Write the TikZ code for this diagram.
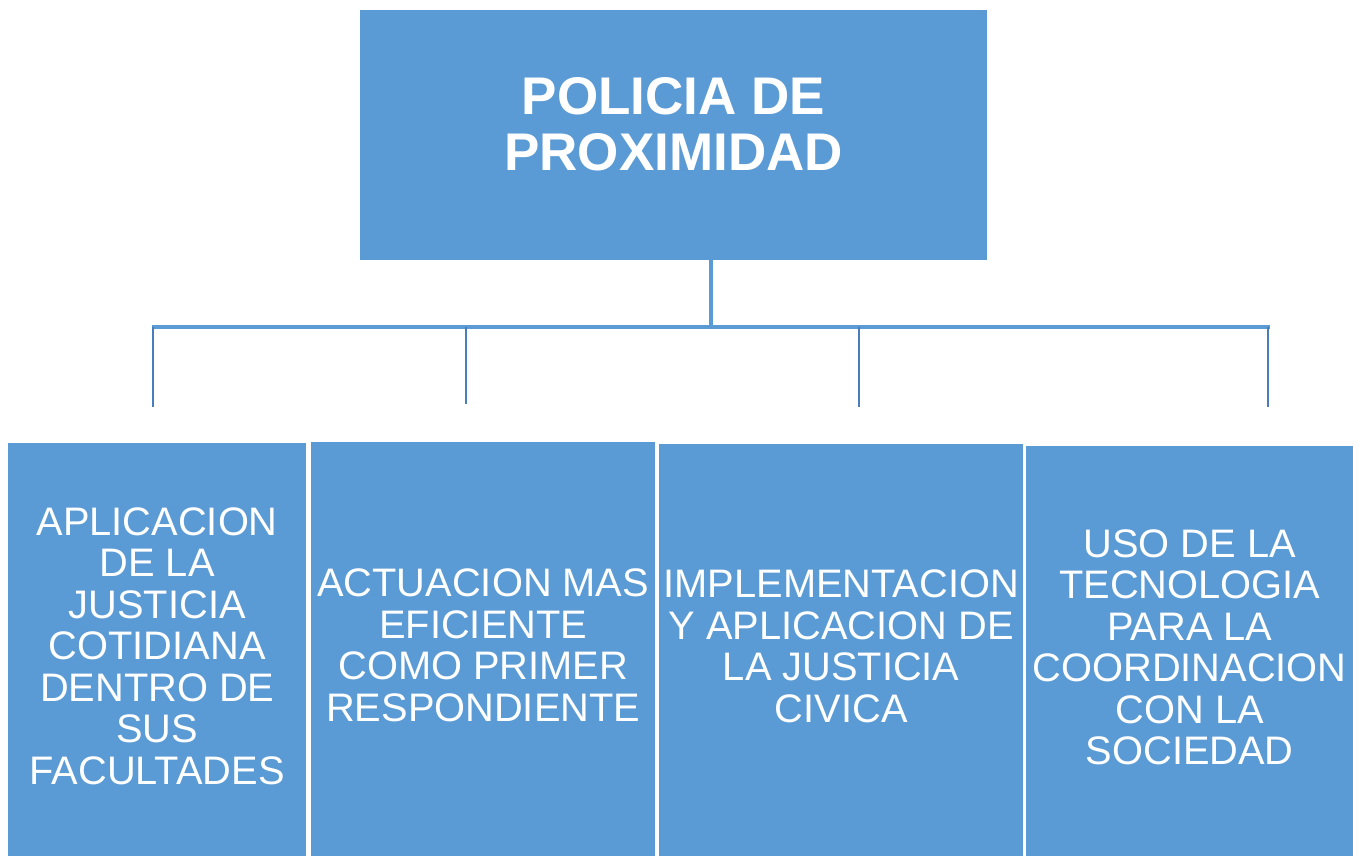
\documentclass[tikz,border=0pt]{standalone}
\usepackage{fontspec}
\setmainfont{Liberation Sans}
\definecolor{boxblue}{HTML}{5B9BD5}
\definecolor{dropblue}{RGB}{74,126,187}
\tikzset{
  box/.style={fill=boxblue, draw=none, inner sep=0pt, anchor=north west, text=white, align=center,
    text depth=8pt, font=\fontsize{39.8}{41.5}\selectfont},
  toptext/.style={text=white, align=center, inner sep=0pt, font=\fontsize{53}{55.7}\selectfont\bfseries},
  bar/.style={draw=boxblue, line width=4.5pt},
  trunk/.style={draw=boxblue, line width=3.5pt},
  droplink/.style={draw=dropblue, line width=2.5pt}
}
\begin{document}
\begin{tikzpicture}[x=1pt,y=-1pt]
\useasboundingbox (0,0) rectangle (1353,856);
% top box
\node[box, minimum width=627pt, minimum height=250pt] (top) at (360,10) {};
\node[toptext] (toplabel) at (673.5,124) {POLICIA DE\\PROXIMIDAD};
% bottom boxes
\node[box, minimum width=298pt, minimum height=413pt] (b1) at (8,443)
  {APLICACION\\DE LA\\JUSTICIA\\COTIDIANA\\DENTRO DE\\SUS\\FACULTADES};
\node[box, minimum width=344pt, minimum height=414pt] (b2) at (311,442)
  {ACTUACION MAS\\EFICIENTE\\COMO PRIMER\\RESPONDIENTE};
\node[box, minimum width=364pt, minimum height=412pt] (b3) at (659,444)
  {IMPLEMENTACION\\Y APLICACION DE\\LA JUSTICIA\\CIVICA};
\node[box, minimum width=327pt, minimum height=410pt] (b4) at (1026,446)
  {USO DE LA\\TECNOLOGIA\\PARA LA\\COORDINACION\\CON LA\\SOCIEDAD};
% connector coordinates
\coordinate (j) at (711,327);
\coordinate (hl) at (152,327);
\coordinate (hr) at (1270,327);
\coordinate (d1) at (153,407);
\coordinate (d2) at (466,404);
\coordinate (d3) at (859,407);
\coordinate (d4) at (1268,407);
% connectors
\draw[trunk] (top.south -| j) -- (j);
\draw[bar] (hl) -- (hr);
\draw[droplink] (d1 |- hl) -- (d1);
\draw[droplink] (d2 |- hl) -- (d2);
\draw[droplink] (d3 |- hl) -- (d3);
\draw[droplink] (d4 |- hl) -- (d4);
\end{tikzpicture}
\end{document}
